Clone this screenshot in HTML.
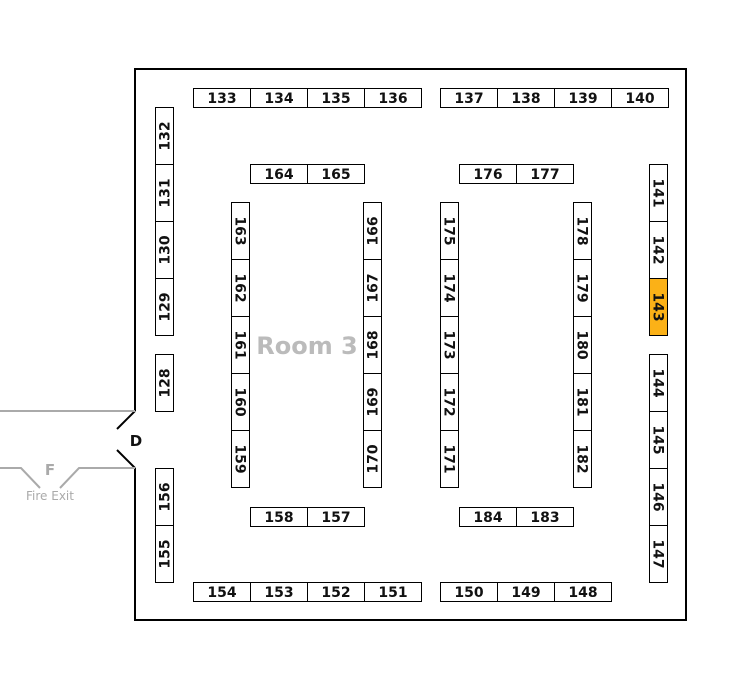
<!DOCTYPE html>
<html><head><meta charset="utf-8"><style>
html,body{margin:0;padding:0;background:#fff;}
svg{display:block;}
text{font-family:"DejaVu Sans","Liberation Sans",sans-serif;}
.c{fill:#fff;stroke:#000;stroke-width:1;}
.t{font-size:14px;font-weight:bold;fill:#111;text-anchor:middle;}
</style></head><body>
<svg width="755" height="689" viewBox="0 0 755 689" xmlns="http://www.w3.org/2000/svg">
<path d="M135,411 L135,69 L686,69 L686,620 L135,620 L135,468" fill="none" stroke="#000" stroke-width="2"/>
<path d="M135,411 L117,429 M117,450 L135,468" fill="none" stroke="#000" stroke-width="2"/>
<text x="136" y="446" font-size="15" font-weight="bold" text-anchor="middle" fill="#111">D</text>
<path d="M0,411 L135,411 M0,468 L21,468 L40,488 M60,488 L79,468 L135,468" fill="none" stroke="#aaa" stroke-width="2"/>
<text x="50" y="475" font-size="15" font-weight="bold" text-anchor="middle" fill="#aaa">F</text>
<text x="50" y="500" font-size="12" text-anchor="middle" fill="#aaa">Fire Exit</text>
<text x="307" y="354" font-size="24" font-weight="bold" text-anchor="middle" fill="#bbb">Room 3</text>

<g>
<rect class="c" x="193.5" y="88.5" width="57" height="19"/><text class="t" x="222" y="103">133</text>
<rect class="c" x="250.5" y="88.5" width="57" height="19"/><text class="t" x="279" y="103">134</text>
<rect class="c" x="307.5" y="88.5" width="57" height="19"/><text class="t" x="336" y="103">135</text>
<rect class="c" x="364.5" y="88.5" width="57" height="19"/><text class="t" x="393" y="103">136</text>
<rect class="c" x="440.5" y="88.5" width="57" height="19"/><text class="t" x="469" y="103">137</text>
<rect class="c" x="497.5" y="88.5" width="57" height="19"/><text class="t" x="526" y="103">138</text>
<rect class="c" x="554.5" y="88.5" width="57" height="19"/><text class="t" x="583" y="103">139</text>
<rect class="c" x="611.5" y="88.5" width="57" height="19"/><text class="t" x="640" y="103">140</text>
</g>
<g>
<rect class="c" x="193.5" y="582.5" width="57" height="19"/><text class="t" x="222" y="597">154</text>
<rect class="c" x="250.5" y="582.5" width="57" height="19"/><text class="t" x="279" y="597">153</text>
<rect class="c" x="307.5" y="582.5" width="57" height="19"/><text class="t" x="336" y="597">152</text>
<rect class="c" x="364.5" y="582.5" width="57" height="19"/><text class="t" x="393" y="597">151</text>
<rect class="c" x="440.5" y="582.5" width="57" height="19"/><text class="t" x="469" y="597">150</text>
<rect class="c" x="497.5" y="582.5" width="57" height="19"/><text class="t" x="526" y="597">149</text>
<rect class="c" x="554.5" y="582.5" width="57" height="19"/><text class="t" x="583" y="597">148</text>
</g>
<rect class="c" x="250.5" y="164.5" width="57" height="19"/><text class="t" x="279" y="179">164</text>
<rect class="c" x="307.5" y="164.5" width="57" height="19"/><text class="t" x="336" y="179">165</text>
<rect class="c" x="459.5" y="164.5" width="57" height="19"/><text class="t" x="488" y="179">176</text>
<rect class="c" x="516.5" y="164.5" width="57" height="19"/><text class="t" x="545" y="179">177</text>
<rect class="c" x="250.5" y="507.5" width="57" height="19"/><text class="t" x="279" y="522">158</text>
<rect class="c" x="307.5" y="507.5" width="57" height="19"/><text class="t" x="336" y="522">157</text>
<rect class="c" x="459.5" y="507.5" width="57" height="19"/><text class="t" x="488" y="522">184</text>
<rect class="c" x="516.5" y="507.5" width="57" height="19"/><text class="t" x="545" y="522">183</text>

<rect class="c" x="155.5" y="107.5" width="18" height="57"/><text class="t" transform="translate(164.5,136) rotate(-90)" y="5">132</text>
<rect class="c" x="155.5" y="164.5" width="18" height="57"/><text class="t" transform="translate(164.5,193) rotate(-90)" y="5">131</text>
<rect class="c" x="155.5" y="221.5" width="18" height="57"/><text class="t" transform="translate(164.5,250) rotate(-90)" y="5">130</text>
<rect class="c" x="155.5" y="278.5" width="18" height="57"/><text class="t" transform="translate(164.5,307) rotate(-90)" y="5">129</text>
<rect class="c" x="155.5" y="354.5" width="18" height="57"/><text class="t" transform="translate(164.5,383) rotate(-90)" y="5">128</text>
<rect class="c" x="155.5" y="468.5" width="18" height="57"/><text class="t" transform="translate(164.5,497) rotate(-90)" y="5">156</text>
<rect class="c" x="155.5" y="525.5" width="18" height="57"/><text class="t" transform="translate(164.5,554) rotate(-90)" y="5">155</text>

<rect class="c" x="231.5" y="202.5" width="18" height="57"/><text class="t" transform="translate(240.5,231) rotate(90)" y="5">163</text>
<rect class="c" x="231.5" y="259.5" width="18" height="57"/><text class="t" transform="translate(240.5,288) rotate(90)" y="5">162</text>
<rect class="c" x="231.5" y="316.5" width="18" height="57"/><text class="t" transform="translate(240.5,345) rotate(90)" y="5">161</text>
<rect class="c" x="231.5" y="373.5" width="18" height="57"/><text class="t" transform="translate(240.5,402) rotate(90)" y="5">160</text>
<rect class="c" x="231.5" y="430.5" width="18" height="57"/><text class="t" transform="translate(240.5,459) rotate(90)" y="5">159</text>

<rect class="c" x="363.5" y="202.5" width="18" height="57"/><text class="t" transform="translate(372.5,231) rotate(-90)" y="5">166</text>
<rect class="c" x="363.5" y="259.5" width="18" height="57"/><text class="t" transform="translate(372.5,288) rotate(-90)" y="5">167</text>
<rect class="c" x="363.5" y="316.5" width="18" height="57"/><text class="t" transform="translate(372.5,345) rotate(-90)" y="5">168</text>
<rect class="c" x="363.5" y="373.5" width="18" height="57"/><text class="t" transform="translate(372.5,402) rotate(-90)" y="5">169</text>
<rect class="c" x="363.5" y="430.5" width="18" height="57"/><text class="t" transform="translate(372.5,459) rotate(-90)" y="5">170</text>

<rect class="c" x="440.5" y="202.5" width="18" height="57"/><text class="t" transform="translate(449.5,231) rotate(90)" y="5">175</text>
<rect class="c" x="440.5" y="259.5" width="18" height="57"/><text class="t" transform="translate(449.5,288) rotate(90)" y="5">174</text>
<rect class="c" x="440.5" y="316.5" width="18" height="57"/><text class="t" transform="translate(449.5,345) rotate(90)" y="5">173</text>
<rect class="c" x="440.5" y="373.5" width="18" height="57"/><text class="t" transform="translate(449.5,402) rotate(90)" y="5">172</text>
<rect class="c" x="440.5" y="430.5" width="18" height="57"/><text class="t" transform="translate(449.5,459) rotate(90)" y="5">171</text>

<rect class="c" x="573.5" y="202.5" width="18" height="57"/><text class="t" transform="translate(582.5,231) rotate(90)" y="5">178</text>
<rect class="c" x="573.5" y="259.5" width="18" height="57"/><text class="t" transform="translate(582.5,288) rotate(90)" y="5">179</text>
<rect class="c" x="573.5" y="316.5" width="18" height="57"/><text class="t" transform="translate(582.5,345) rotate(90)" y="5">180</text>
<rect class="c" x="573.5" y="373.5" width="18" height="57"/><text class="t" transform="translate(582.5,402) rotate(90)" y="5">181</text>
<rect class="c" x="573.5" y="430.5" width="18" height="57"/><text class="t" transform="translate(582.5,459) rotate(90)" y="5">182</text>

<rect class="c" x="649.5" y="164.5" width="18" height="57"/><text class="t" transform="translate(658.5,193) rotate(90)" y="5">141</text>
<rect class="c" x="649.5" y="221.5" width="18" height="57"/><text class="t" transform="translate(658.5,250) rotate(90)" y="5">142</text>
<rect x="649.5" y="278.5" width="18" height="57" fill="#fbb117" stroke="#000"/><text class="t" transform="translate(658.5,307) rotate(90)" y="5">143</text>
<rect class="c" x="649.5" y="354.5" width="18" height="57"/><text class="t" transform="translate(658.5,383) rotate(90)" y="5">144</text>
<rect class="c" x="649.5" y="411.5" width="18" height="57"/><text class="t" transform="translate(658.5,440) rotate(90)" y="5">145</text>
<rect class="c" x="649.5" y="468.5" width="18" height="57"/><text class="t" transform="translate(658.5,497) rotate(90)" y="5">146</text>
<rect class="c" x="649.5" y="525.5" width="18" height="57"/><text class="t" transform="translate(658.5,554) rotate(90)" y="5">147</text>
</svg>
</body></html>
